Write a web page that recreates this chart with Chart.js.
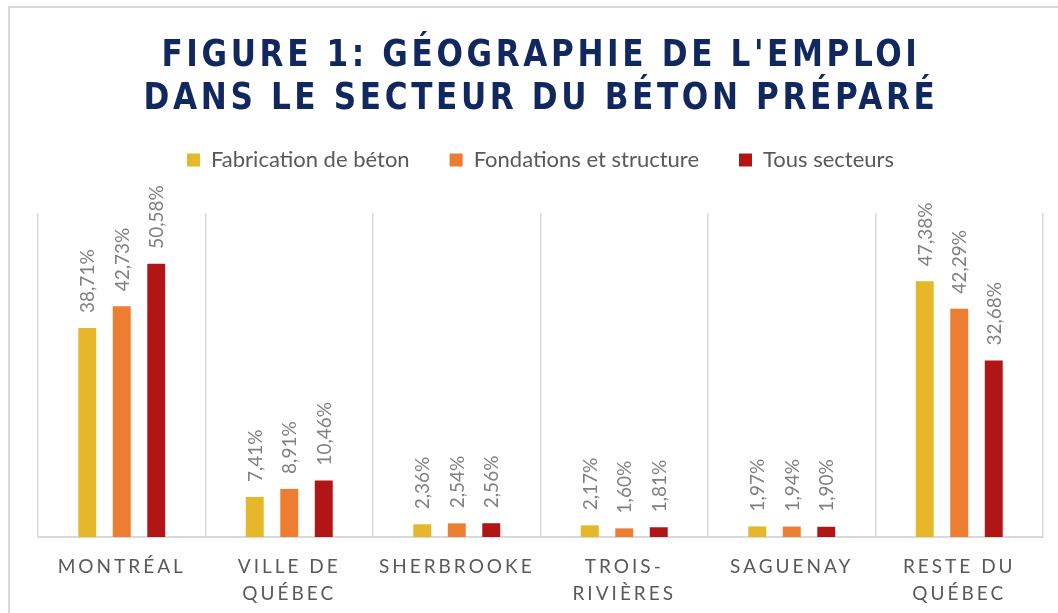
<!DOCTYPE html>
<html>
<head>
<meta charset="utf-8">
<script src="https://cdn.jsdelivr.net/npm/chart.js@4.4.1/dist/chart.umd.min.js"></script>
<style>
  html, body { margin: 0; padding: 0; background: #ffffff; overflow: hidden; }
  #wrap { position: relative; width: 1058px; height: 613px; overflow: hidden; }
  #frame { position: absolute; left: 8px; top: 6px; width: 1200px; height: 800px; border: 2px solid #d9d9d9; box-sizing: border-box; }
  #title { position: absolute; left: 11px; top: 32px; width: 1058px; text-align: center;
    font-family: "DejaVu Sans Condensed", "DejaVu Sans", sans-serif; font-weight: bold; font-stretch: condensed;
    font-size: 38px; line-height: 43px; letter-spacing: 4px; color: #10285e;
    transform: scaleX(0.91); transform-origin: 540px 0; }
  canvas { position: absolute; left: 0; top: 0; }
</style>
</head>
<body>
<div id="wrap">
  <div id="frame"></div>
  <canvas id="c" width="1058" height="629"></canvas>
  <div id="title">FIGURE 1: GÉOGRAPHIE DE L'EMPLOI<br>DANS LE SECTEUR DU BÉTON PRÉPARÉ</div>
</div>
<script>
const categories = [["MONTRÉAL"], ["VILLE DE", "QUÉBEC"], ["SHERBROOKE"], ["TROIS-", "RIVIÈRES"], ["SAGUENAY"], ["RESTE DU", "QUÉBEC"]];
const seriesNames = ["Fabrication de béton", "Fondations et structure", "Tous secteurs"];
const fabrication = [38.71, 7.41, 2.36, 2.17, 1.97, 47.38];
const fondations = [42.73, 8.91, 2.54, 1.60, 1.94, 42.29];
const tousSecteurs = [50.58, 10.46, 2.56, 1.81, 1.90, 32.68];
const colors = ["#e6b72b", "#ed7d31", "#b11515"];

const fmt = v => v.toFixed(2).replace('.', ',') + '%';

const valueLabels = {
  id: 'valueLabels',
  afterDatasetsDraw(chart) {
    const ctx = chart.ctx;
    ctx.save();
    ctx.font = '19px Lato';
    ctx.fillStyle = '#808080';
    ctx.textAlign = 'left';
    ctx.textBaseline = 'middle';
    chart.data.datasets.forEach((ds, i) => {
      chart.getDatasetMeta(i).data.forEach((bar, j) => {
        ctx.save();
        ctx.translate(bar.x + 1, bar.y - 15);
        ctx.rotate(-Math.PI / 2);
        ctx.fillText(fmt(ds.data[j]), 0, 0);
        ctx.restore();
      });
    });
    ctx.restore();
  }
};

const legendSpace = {
  id: 'legendSpace',
  afterInit(chart) {
    const lg = chart.legend;
    if (lg && !lg._patched) {
      const f = lg.fit;
      lg.fit = function () { f.call(this); this.height += 32; };
      lg._patched = true;
    }
  },
  afterLayout(chart) {
    const s = chart.scales.x;
    if (s && !s._ls) {
      const orig = s.drawLabels;
      s.drawLabels = function (area) {
        const ctx = this.ctx;
        const prev = ctx.letterSpacing;
        ctx.letterSpacing = '3px';
        orig.call(this, area);
        ctx.letterSpacing = prev;
      };
      s._ls = true;
    }
  }
};

new Chart(document.getElementById('c'), {
  type: 'bar',
  data: {
    labels: categories,
    datasets: [
      { label: seriesNames[0], data: fabrication, backgroundColor: colors[0] },
      { label: seriesNames[1], data: fondations, backgroundColor: colors[1] },
      { label: seriesNames[2], data: tousSecteurs, backgroundColor: colors[2] }
    ]
  },
  options: {
    responsive: false,
    animation: false,
    events: [],
    datasets: { bar: { categoryPercentage: 0.618, barPercentage: 0.52 } },
    layout: { padding: { left: 38, right: 15, top: 109, bottom: 6 } },
    plugins: {
      legend: {
        position: 'top',
        labels: {
          boxWidth: 13, boxHeight: 13, padding: 40,
          color: '#595959', font: { family: 'Lato', size: 22 }
        }
      },
      tooltip: { enabled: false }
    },
    scales: {
      x: {
        grid: { offset: true, color: '#d9d9d9', lineWidth: 1.5, drawTicks: false },
        border: { color: '#d9d9d9', width: 2 },
        ticks: { color: '#595959', font: { family: 'Lato', size: 19, lineHeight: 1.42 }, padding: 16, maxRotation: 0, autoSkip: false }
      },
      y: { display: false, min: 0, max: 60 }
    }
  },
  plugins: [valueLabels, legendSpace]
});
</script>
</body>
</html>
